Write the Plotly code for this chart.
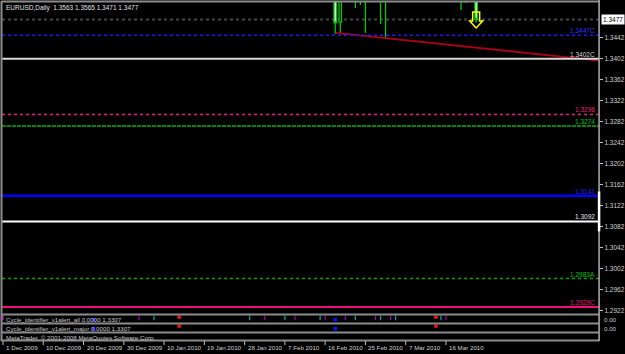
import plotly.graph_objects as go

W, H = 625, 354

# ---------------- data ----------------
title_text = "EURUSD,Daily  1.3563 1.3565 1.3471 1.3477"
bar_idx = [66, 67, 70, 71, 72, 75, 76, 91, 92, 94]
opens   = [1.3560, 1.3472, 1.3580, 1.3590, 1.3570, 1.3560, 1.3570, 1.3600, 1.3610, 1.3563]
highs   = [1.3585, 1.3565, 1.3610, 1.3620, 1.3600, 1.3590, 1.3600, 1.3640, 1.3650, 1.3565]
lows    = [1.34495, 1.34514, 1.34990, 1.35047, 1.34514, 1.34685, 1.34419, 1.34952, 1.35085, 1.3471]
closes  = [1.34704, 1.3540, 1.3560, 1.3570, 1.3590, 1.3580, 1.3590, 1.3620, 1.3590, 1.3477]

current_price = 1.3477

level_prices = [1.3447, 1.3402, 1.3296, 1.3274, 1.3141, 1.3092, 1.2983, 1.2929]
level_labels = ["1.3447C", "1.3402C", "1.3296", "1.3274", "1.3141", "1.3092", "1.2983A", "1.2929C"]

trend_k = [66.1, 118.4]
trend_p = [1.34515, 1.33986]

arrow_k = [94]
arrow_top_price = [1.34914]

price_ticks = [1.3442, 1.3402, 1.3362, 1.3322, 1.3282, 1.3242, 1.3202, 1.3162,
               1.3122, 1.3082, 1.3042, 1.3002, 1.2962, 1.2922]

time_tick_idx = [0, 8, 16, 24, 32, 40, 48, 56, 64, 72, 80, 88]
time_labels = ["1 Dec 2009", "10 Dec 2009", "20 Dec 2009", "30 Dec 2009", "10 Jan 2010",
               "19 Jan 2010", "28 Jan 2010", "7 Feb 2010", "16 Feb 2010", "25 Feb 2010",
               "7 Mar 2010", "16 Mar 2010"]

p1_k    = [0, 18, 27, 30, 35, 49, 52, 56, 58, 63, 64, 66, 68, 70, 74, 75, 77, 78, 86, 87, 88]
p1_kind = ["m", "b", "p", "c", "r", "c", "p", "c", "p", "c", "p", "b", "p", "c", "p", "c", "p", "c", "r", "c", "p"]
p2_k    = [18, 35, 66, 86]
p2_kind = ["b", "r", "b", "r"]

panel_texts = ["Cycle_identifier_v1alert_all 0.0000 1.3307",
               "Cycle_identifier_v1alert_major 0.0000 1.3307",
               "MetaTrader, \u00a9 2001-2008 MetaQuotes Software Corp."]
panel_scale_labels = ["0.00", "0.00"]

# ---------------- styles ----------------
level_colors = ["#1a1aff", "#d8d8d8", "#e8207a", "#00b400", "#0000ff", "#ffffff", "#00a800", "#f0107a"]
level_label_colors = ["#3030ff", "#d0d0d0", "#e8207a", "#00c000", "#2020ff", "#e8e8e8", "#00c000", "#f0107a"]
level_dash = ["dot", "solid", "dot", "4px,1px", "solid", "solid", "dot", "solid"]
level_width = [1.5, 2, 1.5, 1.5, 2.6, 2, 1.5, 2]
kind_color = {"m": "#ff00ff", "p": "#a000b0", "c": "#00a8a8", "r": "#ff1010", "b": "#1010ff"}

FONT = "Liberation Sans"
TXT = "#d0d0d0"
GRID = "#8c8c8c"

def py(p):
    return 1 - p / H

def px(p):
    return p / W

PX_PER_BAR = 5.05
PX_PER_PRICE = 5260.0
X0 = -1 / PX_PER_BAR
X1 = (601 - 3) / PX_PER_BAR
Y_TOP = 1.3402 + 57 / PX_PER_PRICE
Y_BOT = 1.3402 - 255 / PX_PER_PRICE

fig = go.Figure()

fig.add_trace(go.Candlestick(
    x=bar_idx, open=opens, high=highs, low=lows, close=closes,
    increasing=dict(line=dict(color="#00c800", width=1.3), fillcolor="#000000"),
    decreasing=dict(line=dict(color="#00c800", width=1.3), fillcolor="#ffffff"),
    whiskerwidth=0, showlegend=False, hoverinfo="skip",
    xaxis="x", yaxis="y"))

fig.add_trace(go.Scatter(
    x=trend_k, y=trend_p, mode="lines",
    line=dict(color="#a80018", width=1.8), showlegend=False, hoverinfo="skip",
    xaxis="x", yaxis="y"))

shapes = []
annotations = []

shapes.append(dict(type="line", xref="x domain", yref="y", x0=0, x1=1,
                   y0=current_price, y1=current_price,
                   line=dict(color="#464646", width=2, dash="dot"), layer="below"))
for p, lab, c, lc, d, w in zip(level_prices, level_labels, level_colors,
                                 level_label_colors, level_dash, level_width):
    shapes.append(dict(type="line", xref="x domain", yref="y", x0=0, x1=1, y0=p, y1=p,
                       line=dict(color=c, width=w, dash=d)))
    annotations.append(dict(xref="paper", yref="y", x=px(599), y=p, text=lab,
                            xanchor="right", yanchor="bottom", showarrow=False,
                            yshift=-1, font=dict(family=FONT, size=6.5, color=lc)))

for k, top in zip(arrow_k, arrow_top_price):
    pts = [(-3.5, 0), (3.5, 0), (3.5, 9), (6.5, 9), (0, 16), (-6.5, 9), (-3.5, 9)]
    coords = [(k + dx / PX_PER_BAR, top - dy / PX_PER_PRICE) for dx, dy in pts]
    path = "M " + " L ".join(f"{a:.4f},{b:.6f}" for a, b in coords) + " Z"
    shapes.append(dict(type="path", xref="x", yref="y", path=path,
                       line=dict(color="#ffff00", width=1.5), fillcolor="rgba(0,0,0,0)"))

shapes.append(dict(type="line", xref="paper", yref="paper", x0=px(1.5), x1=px(601),
                   y0=py(1.5), y1=py(1.5), line=dict(color=GRID, width=2)))
shapes.append(dict(type="line", xref="paper", yref="paper", x0=px(1.5), x1=px(1.5),
                   y0=py(1), y1=py(342), line=dict(color=GRID, width=2)))
for yy in [315.5, 324.5, 333.5, 341.5]:
    shapes.append(dict(type="line", xref="paper", yref="paper", x0=px(1), x1=px(601),
                       y0=py(yy), y1=py(yy), line=dict(color=GRID, width=2)))
shapes.append(dict(type="line", xref="paper", yref="paper", x0=px(601), x1=px(601),
                   y0=py(0), y1=py(342), line=dict(color="#b0b0b0", width=1.5)))
shapes.append(dict(type="line", xref="paper", yref="paper", x0=px(601), x1=px(601),
                   y0=py(192), y1=py(232), line=dict(color="#ffffff", width=2.5)))

for k, lab in zip(time_tick_idx, time_labels):
    shapes.append(dict(type="line", xref="x", yref="paper", x0=k, x1=k,
                       y0=py(342), y1=py(346), line=dict(color="#c0c0c0", width=1)))
    annotations.append(dict(xref="x", yref="paper", x=k, y=py(348.5), text=lab,
                            xanchor="left", yanchor="middle", xshift=1, showarrow=False,
                            font=dict(family=FONT, size=6.2, color=TXT)))

annotations.append(dict(xref="paper", yref="paper", x=px(4), y=py(8), text=title_text,
                        xanchor="left", yanchor="middle", showarrow=False,
                        font=dict(family=FONT, size=6.5, color="#e0e0e0")))

annotations.append(dict(xref="paper", yref="y", x=px(602.5), y=current_price, text="1.3477",
                        xanchor="left", yanchor="middle", showarrow=False, bgcolor="#ffffff",
                        borderpad=1, font=dict(family=FONT, size=6.5, color="#000000")))

for t, yy in zip(panel_texts, [320, 329.5, 338]):
    annotations.append(dict(xref="paper", yref="paper", x=px(4), y=py(yy), text=t,
                            xanchor="left", yanchor="middle", showarrow=False,
                            font=dict(family=FONT, size=6.2, color="#c8c8c8")))
for t, yy in zip(panel_scale_labels, [320, 329]):
    annotations.append(dict(xref="paper", yref="paper", x=px(604), y=py(yy), text=t,
                            xanchor="left", yanchor="middle", showarrow=False,
                            font=dict(family=FONT, size=6.2, color="#c8c8c8")))

def add_panel(ks, kinds, xa, ya):
    tick_k = [k for k, t in zip(ks, kinds) if t in "mpc"]
    tick_c = [kind_color[t] for t in kinds if t in "mpc"]
    sq_k = [k for k, t in zip(ks, kinds) if t in "rb"]
    sq_c = [kind_color[t] for t in kinds if t in "rb"]
    sq_y = [0.8 if t == "r" else 0.45 for t in kinds if t in "rb"]
    if tick_k:
        fig.add_trace(go.Scatter(x=tick_k, y=[0.75] * len(tick_k), mode="markers",
                                 marker=dict(symbol="line-ns", size=4,
                                             line=dict(width=1.2, color=tick_c)),
                                 showlegend=False, hoverinfo="skip", xaxis=xa, yaxis=ya))
    fig.add_trace(go.Scatter(x=sq_k, y=sq_y, mode="markers",
                             marker=dict(symbol="square", size=3.5, color=sq_c, line=dict(width=0)),
                             showlegend=False, hoverinfo="skip", xaxis=xa, yaxis=ya))

add_panel(p1_k, p1_kind, "x2", "y2")
add_panel(p2_k, p2_kind, "x3", "y3")

hidden = dict(showgrid=False, zeroline=False, showticklabels=False, ticks="", showline=False)

fig.update_layout(
    width=W, height=H, margin=dict(l=0, r=0, t=0, b=0),
    paper_bgcolor="#000000", plot_bgcolor="#000000",
    showlegend=False,
    xaxis=dict(domain=[px(2), px(601)], range=[X0, X1], rangeslider=dict(visible=False),
               **hidden),
    yaxis=dict(domain=[py(314), py(2)], range=[Y_BOT, Y_TOP], side="right",
               tickvals=price_ticks, ticktext=[f"{v:.4f}" for v in price_ticks],
               ticks="outside", ticklen=3, tickcolor="#c0c0c0", tickwidth=1,
               tickfont=dict(family=FONT, size=6.5, color=TXT),
               showgrid=False, zeroline=False, showline=False, anchor="x"),
    xaxis2=dict(domain=[px(2), px(601)], range=[X0, X1], anchor="y2", **hidden),
    yaxis2=dict(domain=[py(324), py(316.5)], range=[0, 1], anchor="x2", **hidden),
    xaxis3=dict(domain=[px(2), px(601)], range=[X0, X1], anchor="y3", **hidden),
    yaxis3=dict(domain=[py(333), py(325.5)], range=[0, 1], anchor="x3", **hidden),
    shapes=shapes, annotations=annotations,
)

fig.write_html("out.html")
